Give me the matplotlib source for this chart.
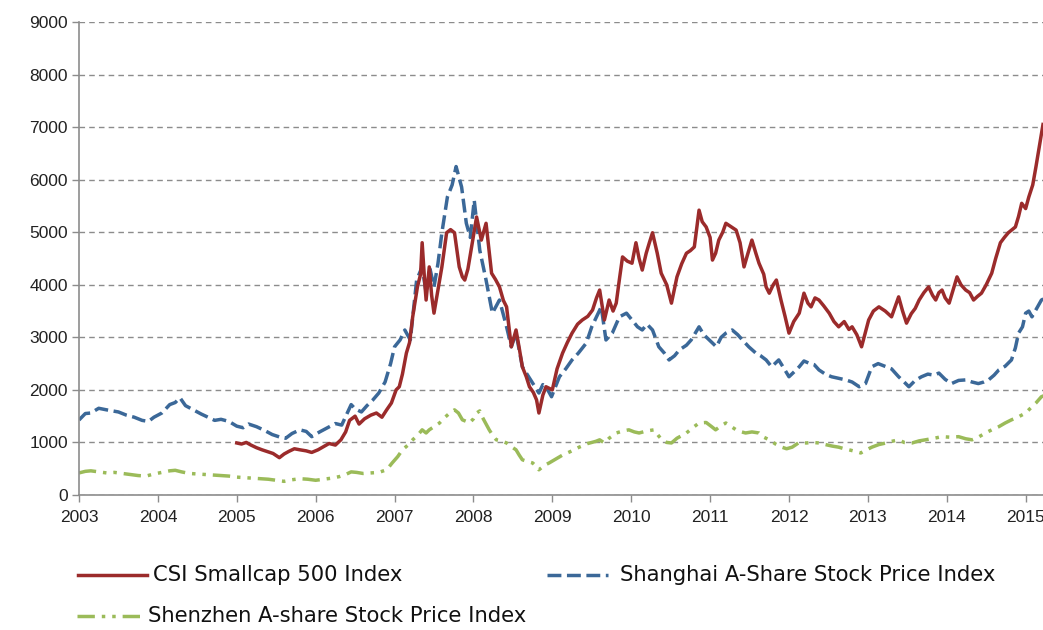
import matplotlib
matplotlib.use('Agg')
import matplotlib.pyplot as plt
from matplotlib.lines import Line2D

# decimal years and index levels
sh_t = [2003.0, 2003.08, 2003.15, 2003.25, 2003.35, 2003.5, 2003.6, 2003.7, 2003.8, 2003.88, 2003.95,
        2004.05, 2004.15, 2004.22, 2004.28, 2004.35, 2004.45, 2004.55, 2004.65, 2004.72, 2004.8, 2004.9,
        2005.0, 2005.08, 2005.15, 2005.25, 2005.35, 2005.45, 2005.55, 2005.62, 2005.7, 2005.8, 2005.88, 2005.95,
        2006.05, 2006.15, 2006.25, 2006.33, 2006.4, 2006.45, 2006.5, 2006.58, 2006.65, 2006.72, 2006.8, 2006.88, 2006.95,
        2007.0, 2007.07, 2007.13, 2007.2, 2007.28, 2007.35, 2007.4, 2007.45, 2007.5, 2007.55, 2007.6, 2007.67, 2007.73,
        2007.78, 2007.85, 2007.91, 2007.96, 2008.01, 2008.08, 2008.16, 2008.24, 2008.33, 2008.42, 2008.48, 2008.54,
        2008.62, 2008.7, 2008.75, 2008.83, 2008.88, 2008.92, 2008.99, 2009.09, 2009.17, 2009.25, 2009.33, 2009.43,
        2009.5, 2009.56, 2009.62, 2009.68, 2009.76, 2009.85, 2009.94, 2010.01, 2010.08, 2010.14, 2010.2, 2010.27,
        2010.35, 2010.42, 2010.48, 2010.55, 2010.61, 2010.7, 2010.76, 2010.86, 2010.92, 2010.99, 2011.08, 2011.14,
        2011.2, 2011.28, 2011.35, 2011.41, 2011.49, 2011.58, 2011.64, 2011.71, 2011.78, 2011.87, 2011.94, 2012.0,
        2012.07, 2012.13, 2012.19, 2012.25, 2012.32, 2012.38, 2012.46, 2012.54, 2012.63, 2012.72, 2012.8, 2012.89,
        2012.97, 2013.05, 2013.13, 2013.23, 2013.3, 2013.39, 2013.46, 2013.52, 2013.6, 2013.68, 2013.76, 2013.84,
        2013.9, 2013.98, 2014.06, 2014.15, 2014.24, 2014.32, 2014.4, 2014.47, 2014.53, 2014.6, 2014.66, 2014.74,
        2014.82, 2014.87, 2014.91, 2014.96, 2015.0, 2015.04, 2015.08, 2015.14, 2015.2, 2015.25]
sh_v = [1427, 1550, 1560, 1650, 1620, 1580, 1520, 1480, 1420, 1400, 1480,
        1560, 1720, 1760, 1850, 1700, 1620, 1540, 1470, 1420, 1440, 1400,
        1310, 1280, 1350, 1300, 1230, 1150, 1100, 1080, 1170, 1240, 1210, 1110,
        1200, 1280, 1360, 1330, 1560, 1720, 1640, 1580, 1700, 1800, 1940, 2150, 2500,
        2820, 2950, 3140, 2950, 4090, 4340, 3850, 4300, 3960, 4400, 4990, 5670, 5900,
        6250, 5860, 5170, 4900, 5610, 4660, 4090, 3460, 3710, 3200, 2820, 3080,
        2440, 2250, 2130, 1940, 2100, 2060, 1870, 2250, 2400, 2570, 2700, 2890,
        3200, 3390, 3580, 2950, 3080, 3390, 3460, 3330, 3200, 3140, 3250, 3140,
        2820, 2700, 2570, 2650, 2760, 2850, 2950, 3200, 3050, 2950, 2820, 3000,
        3080, 3140, 3050, 2950, 2820, 2700, 2650, 2570, 2440, 2570, 2400, 2250,
        2350, 2440, 2550, 2510, 2480, 2380, 2300, 2250, 2220, 2190, 2150, 2060,
        2120, 2440, 2500, 2440, 2400, 2250, 2150, 2060, 2180, 2250, 2300, 2280,
        2320, 2200, 2120, 2180, 2190, 2150, 2120, 2150, 2190, 2280, 2380, 2450,
        2570, 2800, 3080, 3200, 3460, 3500, 3390, 3550, 3710, 3750]

csi_t = [2005.0, 2005.06, 2005.12, 2005.18, 2005.25, 2005.32, 2005.4, 2005.46, 2005.54, 2005.6, 2005.66, 2005.73,
         2005.8, 2005.88, 2005.95, 2006.03, 2006.1, 2006.17, 2006.25, 2006.32, 2006.38, 2006.43, 2006.5, 2006.55,
         2006.62, 2006.7, 2006.77, 2006.84, 2006.9, 2006.96, 2007.02, 2007.06, 2007.1, 2007.15, 2007.19, 2007.23,
         2007.29, 2007.33, 2007.35, 2007.38, 2007.4, 2007.44, 2007.47, 2007.5, 2007.55, 2007.6, 2007.66, 2007.71,
         2007.76, 2007.82, 2007.86, 2007.89, 2007.93, 2007.97, 2008.04, 2008.1, 2008.16, 2008.23, 2008.28, 2008.33,
         2008.38, 2008.42, 2008.48, 2008.54, 2008.58, 2008.62, 2008.67, 2008.71, 2008.76, 2008.8, 2008.83, 2008.88,
         2008.92, 2009.0, 2009.06, 2009.13, 2009.19, 2009.25, 2009.32, 2009.38, 2009.45, 2009.51, 2009.56, 2009.6,
         2009.66, 2009.72, 2009.77, 2009.81, 2009.85, 2009.89, 2009.95, 2010.01, 2010.06, 2010.1, 2010.14, 2010.19,
         2010.23, 2010.27, 2010.33, 2010.38, 2010.45, 2010.51, 2010.58, 2010.64, 2010.7, 2010.75, 2010.8, 2010.86,
         2010.9, 2010.95, 2011.0, 2011.03, 2011.07, 2011.11, 2011.16, 2011.2, 2011.27, 2011.33, 2011.38, 2011.43,
         2011.48, 2011.53, 2011.58, 2011.62, 2011.68, 2011.71, 2011.75, 2011.8, 2011.84, 2011.9, 2011.95, 2012.0,
         2012.06, 2012.13, 2012.19, 2012.24, 2012.28, 2012.33, 2012.38, 2012.44, 2012.51, 2012.57, 2012.63, 2012.7,
         2012.76, 2012.8, 2012.86, 2012.92, 2012.97, 2013.01, 2013.07, 2013.14, 2013.22, 2013.3, 2013.35, 2013.39,
         2013.44, 2013.49, 2013.55, 2013.6, 2013.65, 2013.71, 2013.77, 2013.82, 2013.86, 2013.9, 2013.94, 2013.98,
         2014.03, 2014.08, 2014.13, 2014.18, 2014.24, 2014.29, 2014.34, 2014.39, 2014.44, 2014.5, 2014.57, 2014.62,
         2014.68, 2014.73, 2014.78, 2014.83, 2014.87, 2014.91, 2014.95, 2015.0, 2015.04, 2015.09, 2015.13, 2015.17,
         2015.22]
csi_v = [990, 970, 1000, 950, 900, 860, 820, 790, 710, 780, 830, 880,
         860, 840, 810, 860, 920, 980, 950, 1050, 1200, 1420, 1500, 1350,
         1450, 1520, 1560, 1480, 1620, 1750, 2000, 2060, 2300, 2700, 2900, 3390,
         3960, 4200, 4800, 4100, 3710, 4340, 3800, 3460, 3900, 4340, 4990, 5050,
         4990, 4340, 4150, 4090, 4300, 4660, 5290, 4850, 5170, 4220, 4100, 3960,
         3700, 3580, 2820, 3140, 2800, 2440, 2250, 2060, 1950, 1810, 1560, 1900,
         2060, 2000, 2400, 2700, 2900, 3080, 3250, 3330, 3400, 3520, 3750, 3900,
         3330, 3710, 3500, 3650, 4100, 4530, 4450, 4410, 4800, 4500, 4280, 4600,
         4800, 4990, 4600, 4220, 4000, 3650, 4150, 4400, 4600, 4650, 4720, 5420,
         5200, 5100, 4900, 4470, 4600, 4850, 5000, 5170, 5100, 5040, 4800, 4340,
         4600, 4850, 4600, 4410, 4200, 3960, 3840, 4000, 4090, 3700, 3400, 3080,
         3300, 3460, 3840, 3650, 3580, 3750, 3710, 3600, 3460, 3300, 3200, 3300,
         3150, 3200, 3050, 2820, 3100, 3330, 3500, 3580, 3500, 3390, 3600, 3770,
         3500, 3270, 3450, 3550, 3710, 3850, 3960, 3800, 3710, 3850, 3900, 3750,
         3650, 3900, 4150, 4000, 3900, 3850, 3710, 3780, 3840, 4000, 4220, 4500,
         4800, 4900, 4990, 5050, 5100, 5300, 5550, 5450, 5670, 5900, 6240, 6600,
         7050]

sz_t = [2003.0, 2003.08, 2003.15, 2003.25, 2003.35, 2003.45, 2003.55, 2003.65, 2003.75, 2003.85, 2003.95,
        2004.05, 2004.15, 2004.22, 2004.3, 2004.4, 2004.5, 2004.6, 2004.7, 2004.8, 2004.9,
        2005.0, 2005.1, 2005.2, 2005.3, 2005.4, 2005.5, 2005.6, 2005.7, 2005.8, 2005.9,
        2006.0, 2006.1, 2006.2, 2006.3, 2006.38, 2006.45, 2006.52, 2006.6, 2006.7, 2006.8, 2006.9, 2006.97,
        2007.04, 2007.1, 2007.17, 2007.23, 2007.3, 2007.35, 2007.4, 2007.44, 2007.5, 2007.57, 2007.64, 2007.7,
        2007.76, 2007.81, 2007.86, 2007.91, 2007.95, 2008.0, 2008.04, 2008.08, 2008.11, 2008.16, 2008.2, 2008.25,
        2008.29, 2008.35, 2008.42, 2008.48, 2008.54, 2008.58, 2008.62, 2008.68, 2008.75, 2008.8, 2008.83, 2008.88,
        2008.92, 2008.96, 2009.04, 2009.13, 2009.22, 2009.34, 2009.45, 2009.55, 2009.6, 2009.66, 2009.72, 2009.81,
        2009.9, 2009.97, 2010.04, 2010.1, 2010.2, 2010.29, 2010.35, 2010.39, 2010.45, 2010.51, 2010.58, 2010.64,
        2010.7, 2010.78, 2010.86, 2010.95, 2011.02, 2011.07, 2011.14, 2011.2, 2011.27, 2011.33, 2011.4, 2011.45,
        2011.53, 2011.62, 2011.68, 2011.75, 2011.83, 2011.91, 2011.97, 2012.04, 2012.13, 2012.22, 2012.3, 2012.38,
        2012.46, 2012.55, 2012.63, 2012.7, 2012.76, 2012.84, 2012.91, 2012.97, 2013.05, 2013.14, 2013.23, 2013.3,
        2013.39, 2013.46, 2013.56, 2013.65, 2013.73, 2013.84, 2013.94, 2014.04, 2014.15, 2014.24, 2014.32, 2014.4,
        2014.49, 2014.57, 2014.66, 2014.74, 2014.82, 2014.9, 2015.0, 2015.06, 2015.13, 2015.2, 2015.25]
sz_v = [420, 450, 460, 440, 420, 430, 410, 390, 370, 360, 400,
        430, 460, 470, 440, 410, 400, 390, 380, 370, 360,
        340, 330, 320, 310, 300, 280, 260, 290, 310, 300,
        280, 300, 320, 350, 390, 440, 430, 410, 420, 430, 480, 610,
        730, 860, 950, 1050, 1150, 1240, 1180, 1240, 1300, 1370, 1480, 1560,
        1620, 1560, 1430, 1400, 1370, 1450, 1560, 1600, 1490, 1350, 1240, 1120,
        1050, 1030, 990, 920, 860, 760, 670, 640, 610, 540, 480, 540,
        580, 610, 680, 760, 820, 910, 980, 1020, 1050, 990, 1080, 1180,
        1220, 1240, 1200, 1180, 1220, 1240, 1120, 1050, 1000, 990, 1080, 1130,
        1180, 1280, 1370, 1380, 1300, 1240, 1320, 1370, 1300, 1240, 1200, 1180,
        1200, 1180, 1100, 1050, 970, 910, 880, 910, 1000, 990, 1000, 990,
        960, 930, 910, 880, 860, 830, 800, 850, 910, 960, 990, 1020,
        1050, 1000, 990, 1030, 1050, 1080, 1110, 1100, 1110, 1070, 1050, 1100,
        1180, 1240, 1300, 1370, 1430, 1480, 1560, 1650, 1750, 1870, 1900]

names = ['CSI Smallcap 500 Index', 'Shanghai A-Share Stock Price Index',
         'Shenzhen A-share Stock Price Index']
red = '#9b2b2b'
blue = '#3b6898'
green = '#9bbb59'
grey = '#8c8c8c'

fig = plt.figure(figsize=(10.43, 6.30), dpi=100)
ax = fig.add_axes([79/1043, 1-495/630, 1-79/1043, (495-22)/630])

ax.plot(sz_t, sz_v, color=green, lw=2.5, dashes=(5, 2, 1, 2, 1, 2))
ax.plot(sh_t, sh_v, color=blue, lw=2.5, dashes=(4, 1.6))
ax.plot(csi_t, csi_v, color=red, lw=2.5)

ax.set_xlim(2003, 2015.22)
ax.set_ylim(0, 9000)
ax.set_xticks(range(2003, 2016))
ax.set_xticklabels([str(y) for y in range(2003, 2016)])
ax.set_yticks(range(0, 9001, 1000))
ax.yaxis.grid(True, color=grey, linestyle=(0, (4, 3)), lw=1)
ax.set_axisbelow(True)
for s in ['top', 'right']:
    ax.spines[s].set_visible(False)
for s in ['left', 'bottom']:
    ax.spines[s].set_color(grey)
    ax.spines[s].set_linewidth(1.2)
ax.tick_params(axis='both', colors=grey, length=5, width=1, labelcolor='#222222',
               labelsize=12.5, pad=3)
ax.tick_params(axis='x', pad=6)
for lab in ax.get_xticklabels() + ax.get_yticklabels():
    lab.set_family(['Liberation Sans', 'DejaVu Sans'])

# legend below the plot, laid out like the original
lfont = dict(family=['DejaVu Sans'], size=15.2, color='#111111', va='center')
W, H = 1043.0, 630.0
rows = [(78, 147, 153, 575, red, None, names[0]),
        (547, 608, 620, 575, blue, (4, 1.6), names[1]),
        (77, 142, 148, 616, green, (5, 2, 1, 2, 1, 2), names[2])]
for x0, x1, tx, y0, c, d, name in rows:
    ln = Line2D([x0/W, x1/W], [1-y0/H, 1-y0/H], transform=fig.transFigure, color=c, lw=2.5)
    if d is not None:
        ln.set_dashes(d)
    fig.add_artist(ln)
    fig.text(tx/W, 1-y0/H, name, **lfont)

fig.savefig('out.png', dpi=100)
